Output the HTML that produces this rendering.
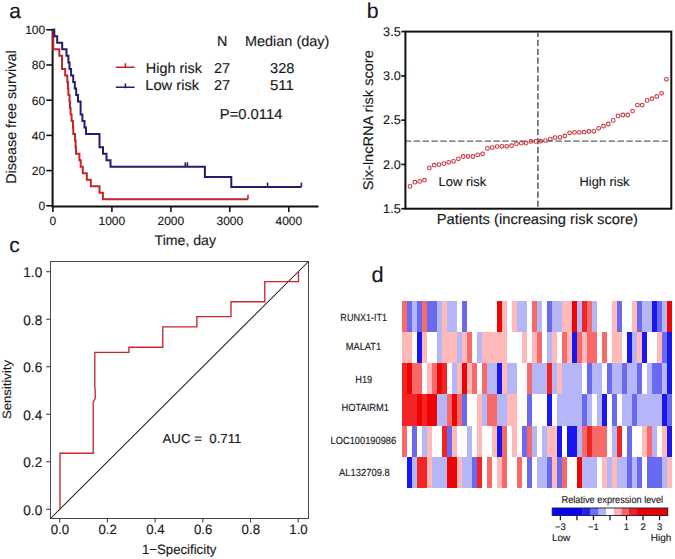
<!DOCTYPE html>
<html><head><meta charset="utf-8"><style>
html,body{margin:0;padding:0;background:#fff;}
body{width:675px;height:559px;overflow:hidden;}
svg{display:block;font-family:"Liberation Sans", sans-serif;text-rendering:geometricPrecision;}
text{fill:#1a1a1a;stroke:#1a1a1a;stroke-width:0.15px;}
</style></head><body>
<svg width="675" height="559" viewBox="0 0 675 559">
<rect width="675" height="559" fill="#fff"/>
<g id="pa">
<text x="9.3" y="17.8" font-size="21">a</text>
<path d="M52.6 28.8 V207.5 M51.6 206.5 H318.5" stroke="#111" stroke-width="2" fill="none"/>
<path d="M46.3 29.8 H53" stroke="#111" stroke-width="1.6"/>
<text x="45.2" y="34.1" font-size="12" text-anchor="end">100</text>
<path d="M46.3 65.0 H53" stroke="#111" stroke-width="1.6"/>
<text x="45.2" y="69.3" font-size="12" text-anchor="end">80</text>
<path d="M46.3 100.2 H53" stroke="#111" stroke-width="1.6"/>
<text x="45.2" y="104.5" font-size="12" text-anchor="end">60</text>
<path d="M46.3 135.4 H53" stroke="#111" stroke-width="1.6"/>
<text x="45.2" y="139.70000000000002" font-size="12" text-anchor="end">40</text>
<path d="M46.3 170.6 H53" stroke="#111" stroke-width="1.6"/>
<text x="45.2" y="174.9" font-size="12" text-anchor="end">20</text>
<path d="M46.3 205.8 H53" stroke="#111" stroke-width="1.6"/>
<text x="45.2" y="210.10000000000002" font-size="12" text-anchor="end">0</text>
<path d="M52.9 206.5 V212" stroke="#111" stroke-width="1.6"/>
<text x="52.9" y="224.6" font-size="12" text-anchor="middle">0</text>
<path d="M111.9 206.5 V212" stroke="#111" stroke-width="1.6"/>
<text x="111.88" y="224.6" font-size="12" text-anchor="middle">1000</text>
<path d="M170.9 206.5 V212" stroke="#111" stroke-width="1.6"/>
<text x="170.85999999999999" y="224.6" font-size="12" text-anchor="middle">2000</text>
<path d="M229.8 206.5 V212" stroke="#111" stroke-width="1.6"/>
<text x="229.84" y="224.6" font-size="12" text-anchor="middle">3000</text>
<path d="M288.8 206.5 V212" stroke="#111" stroke-width="1.6"/>
<text x="288.82" y="224.6" font-size="12" text-anchor="middle">4000</text>
<text x="185.3" y="244.5" font-size="14" text-anchor="middle" textLength="61.5" lengthAdjust="spacingAndGlyphs">Time, day</text>
<text x="15.8" y="117.1" font-size="14.2" text-anchor="middle" textLength="133.5" lengthAdjust="spacingAndGlyphs" transform="rotate(-90 15.8 117.1)">Disease free survival</text>
<path d="M52.9 29.79 H53.3 V49.34 H59.3 V55.86 H62.0 V68.90 H65.2 V75.42 H67.3 V81.94 H67.9 V88.46 H68.4 V94.98 H69.5 V101.50 H70.0 V108.02 H70.6 V114.53 H71.6 V121.05 H73.0 V127.57 H73.3 V134.09 H75.0 V140.61 H75.6 V147.13 H76.0 V153.65 H79.4 V160.17 H80.7 V166.69 H82.8 V173.21 H86.8 V179.72 H90.8 V186.24 H99.5 V192.76 H102.9 V199.28 H248.0" stroke="#c42529" stroke-width="2" fill="none"/>
<path d="M52.9 29.79 H54.3 V36.31 H57.2 V42.83 H62.2 V49.34 H66.5 V55.86 H68.4 V62.38 H69.5 V68.90 H71.1 V75.42 H73.2 V81.94 H74.8 V88.46 H76.2 V94.98 H78.0 V101.50 H80.6 V114.53 H82.4 V121.05 H84.5 V127.57 H86.0 V134.09 H99.5 V147.13 H103.0 V153.65 H106.5 V160.17 H110.5 V166.69 H204.9 V177.12 H231.3 V186.89 H301.4" stroke="#261b6c" stroke-width="2" fill="none"/>
<path d="M248 199.28 v-4.5" stroke="#c42529" stroke-width="1.6"/>
<path d="M185.3 166.69 v-4.3" stroke="#261b6c" stroke-width="1.6"/>
<path d="M187.4 166.69 v-4.3" stroke="#261b6c" stroke-width="1.6"/>
<path d="M267.6 186.89 v-4.3" stroke="#261b6c" stroke-width="1.6"/>
<path d="M301.4 186.89 v-4.3" stroke="#261b6c" stroke-width="1.6"/>
<text x="217.0" y="45.6" font-size="14.3">N</text>
<text x="245.0" y="45.6" font-size="14.3" textLength="84.3" lengthAdjust="spacingAndGlyphs">Median (day)</text>
<path d="M115.8 67.2 H134.6 M125.4 67.7 v-4.4" stroke="#c42529" stroke-width="1.6" fill="none"/>
<path d="M115.8 87.2 H134.6 M125.4 88.2 v-4.8" stroke="#261b6c" stroke-width="1.6" fill="none"/>
<text x="145.8" y="72.5" font-size="14.3" textLength="56.2" lengthAdjust="spacingAndGlyphs">High risk</text>
<text x="145.2" y="89.7" font-size="14.3" textLength="54.0" lengthAdjust="spacingAndGlyphs">Low risk</text>
<text x="214.0" y="72.5" font-size="14.3" textLength="16.2" lengthAdjust="spacingAndGlyphs">27</text>
<text x="214.0" y="89.7" font-size="14.3" textLength="16.2" lengthAdjust="spacingAndGlyphs">27</text>
<text x="270.0" y="72.5" font-size="14.3" textLength="24.4" lengthAdjust="spacingAndGlyphs">328</text>
<text x="270.0" y="89.7" font-size="14.3" textLength="24.0" lengthAdjust="spacingAndGlyphs">511</text>
<text x="219.8" y="118.7" font-size="14.3" textLength="62.6" lengthAdjust="spacingAndGlyphs">P=0.0114</text>
</g>
<g id="pb">
<text x="366.8" y="18.0" font-size="21.3">b</text>
<path d="M406 141.1 H670.5" stroke="#636363" stroke-width="1.4" stroke-dasharray="6.4 2.46" stroke-dashoffset="1.16" fill="none"/>
<path d="M537.9 33 V207.5" stroke="#737373" stroke-width="1.8" stroke-dasharray="6.25 2.68" stroke-dashoffset="2.2" fill="none"/>
<rect x="405.4" y="31.6" width="265.9" height="177.1" stroke="#111" stroke-width="2" fill="none"/>
<path d="M401.2 31.60 H405.3" stroke="#111" stroke-width="1.6"/>
<text x="400.7" y="35.89999999999999" font-size="12.6" text-anchor="end" textLength="17.6" lengthAdjust="spacingAndGlyphs">3.5</text>
<path d="M401.2 75.88 H405.3" stroke="#111" stroke-width="1.6"/>
<text x="400.7" y="80.175" font-size="12.6" text-anchor="end" textLength="17.6" lengthAdjust="spacingAndGlyphs">3.0</text>
<path d="M401.2 120.15 H405.3" stroke="#111" stroke-width="1.6"/>
<text x="400.7" y="124.44999999999999" font-size="12.6" text-anchor="end" textLength="17.6" lengthAdjust="spacingAndGlyphs">2.5</text>
<path d="M401.2 164.42 H405.3" stroke="#111" stroke-width="1.6"/>
<text x="400.7" y="168.725" font-size="12.6" text-anchor="end" textLength="17.6" lengthAdjust="spacingAndGlyphs">2.0</text>
<path d="M401.2 208.70 H405.3" stroke="#111" stroke-width="1.6"/>
<text x="400.7" y="213.0" font-size="12.6" text-anchor="end" textLength="17.6" lengthAdjust="spacingAndGlyphs">1.5</text>
<g fill="none" stroke="#c83a42" stroke-width="1.1"><circle cx="410.00" cy="186.4" r="1.85"/><circle cx="414.84" cy="182.2" r="1.85"/><circle cx="419.68" cy="181.4" r="1.85"/><circle cx="424.51" cy="180.2" r="1.85"/><circle cx="429.35" cy="167.9" r="1.85"/><circle cx="434.19" cy="165.2" r="1.85"/><circle cx="439.03" cy="164.6" r="1.85"/><circle cx="443.87" cy="163.6" r="1.85"/><circle cx="448.70" cy="162.3" r="1.85"/><circle cx="453.54" cy="161.3" r="1.85"/><circle cx="458.38" cy="158.8" r="1.85"/><circle cx="463.22" cy="156.5" r="1.85"/><circle cx="468.06" cy="156.5" r="1.85"/><circle cx="472.89" cy="156.5" r="1.85"/><circle cx="477.73" cy="154.9" r="1.85"/><circle cx="482.57" cy="153.8" r="1.85"/><circle cx="487.41" cy="148.4" r="1.85"/><circle cx="492.25" cy="147.6" r="1.85"/><circle cx="497.08" cy="146.6" r="1.85"/><circle cx="501.92" cy="146.3" r="1.85"/><circle cx="506.76" cy="146.3" r="1.85"/><circle cx="511.60" cy="145.7" r="1.85"/><circle cx="516.44" cy="143.7" r="1.85"/><circle cx="521.27" cy="143.2" r="1.85"/><circle cx="526.11" cy="143.2" r="1.85"/><circle cx="530.95" cy="141.4" r="1.85"/><circle cx="535.79" cy="141.4" r="1.85"/><circle cx="540.63" cy="141.2" r="1.85"/><circle cx="545.46" cy="140.6" r="1.85"/><circle cx="550.30" cy="139.1" r="1.85"/><circle cx="555.14" cy="137.6" r="1.85"/><circle cx="559.98" cy="137.3" r="1.85"/><circle cx="564.82" cy="136.0" r="1.85"/><circle cx="569.65" cy="132.8" r="1.85"/><circle cx="574.49" cy="132.4" r="1.85"/><circle cx="579.33" cy="132.4" r="1.85"/><circle cx="584.17" cy="132.2" r="1.85"/><circle cx="589.01" cy="131.5" r="1.85"/><circle cx="593.84" cy="131.3" r="1.85"/><circle cx="598.68" cy="128.3" r="1.85"/><circle cx="603.52" cy="126.2" r="1.85"/><circle cx="608.36" cy="124.0" r="1.85"/><circle cx="613.20" cy="120.4" r="1.85"/><circle cx="618.03" cy="115.9" r="1.85"/><circle cx="622.87" cy="115.0" r="1.85"/><circle cx="627.71" cy="115.0" r="1.85"/><circle cx="632.55" cy="111.1" r="1.85"/><circle cx="637.39" cy="105.1" r="1.85"/><circle cx="642.22" cy="105.1" r="1.85"/><circle cx="647.06" cy="100.4" r="1.85"/><circle cx="651.90" cy="98.7" r="1.85"/><circle cx="656.74" cy="96.5" r="1.85"/><circle cx="661.58" cy="93.3" r="1.85"/><circle cx="666.41" cy="79.3" r="1.85"/></g>
<text x="438.6" y="186.0" font-size="12.8" textLength="47.6" lengthAdjust="spacingAndGlyphs">Low risk</text>
<text x="579.5" y="186.0" font-size="12.8" textLength="50.0" lengthAdjust="spacingAndGlyphs">High risk</text>
<text x="436.8" y="224.2" font-size="14.5" textLength="201.2" lengthAdjust="spacingAndGlyphs">Patients (increasing risk score)</text>
<text x="373.0" y="120.2" font-size="14" text-anchor="middle" textLength="140" lengthAdjust="spacingAndGlyphs" transform="rotate(-90 373.0 120.2)">Six-lncRNA risk score</text>
</g>
<g id="pc">
<text x="9.2" y="252.0" font-size="21">c</text>
<rect x="50.5" y="261.5" width="258.0" height="257.0" stroke="#484848" stroke-width="1" fill="none"/>
<path d="M50.5 518.5 L308.5 261.5" stroke="#222" stroke-width="1.05" fill="none"/>
<path d="M46.2 509.30 H50.5" stroke="#444" stroke-width="1.1"/>
<text x="42.2" y="514.6" font-size="14" text-anchor="end" textLength="18.9" lengthAdjust="spacingAndGlyphs">0.0</text>
<path d="M59.70 518.5 V522.6" stroke="#444" stroke-width="1.1"/>
<text x="60.0" y="534.1" font-size="13.6" text-anchor="middle" textLength="18.4" lengthAdjust="spacingAndGlyphs">0.0</text>
<path d="M46.2 461.78 H50.5" stroke="#444" stroke-width="1.1"/>
<text x="42.2" y="467.08000000000004" font-size="14" text-anchor="end" textLength="18.9" lengthAdjust="spacingAndGlyphs">0.2</text>
<path d="M107.40 518.5 V522.6" stroke="#444" stroke-width="1.1"/>
<text x="107.7" y="534.1" font-size="13.6" text-anchor="middle" textLength="18.4" lengthAdjust="spacingAndGlyphs">0.2</text>
<path d="M46.2 414.26 H50.5" stroke="#444" stroke-width="1.1"/>
<text x="42.2" y="419.56" font-size="14" text-anchor="end" textLength="18.9" lengthAdjust="spacingAndGlyphs">0.4</text>
<path d="M155.10 518.5 V522.6" stroke="#444" stroke-width="1.1"/>
<text x="155.40000000000003" y="534.1" font-size="13.6" text-anchor="middle" textLength="18.4" lengthAdjust="spacingAndGlyphs">0.4</text>
<path d="M46.2 366.74 H50.5" stroke="#444" stroke-width="1.1"/>
<text x="42.2" y="372.04" font-size="14" text-anchor="end" textLength="18.9" lengthAdjust="spacingAndGlyphs">0.6</text>
<path d="M202.80 518.5 V522.6" stroke="#444" stroke-width="1.1"/>
<text x="203.10000000000002" y="534.1" font-size="13.6" text-anchor="middle" textLength="18.4" lengthAdjust="spacingAndGlyphs">0.6</text>
<path d="M46.2 319.22 H50.5" stroke="#444" stroke-width="1.1"/>
<text x="42.2" y="324.52000000000004" font-size="14" text-anchor="end" textLength="18.9" lengthAdjust="spacingAndGlyphs">0.8</text>
<path d="M250.50 518.5 V522.6" stroke="#444" stroke-width="1.1"/>
<text x="250.8" y="534.1" font-size="13.6" text-anchor="middle" textLength="18.4" lengthAdjust="spacingAndGlyphs">0.8</text>
<path d="M46.2 271.70 H50.5" stroke="#444" stroke-width="1.1"/>
<text x="42.2" y="277.00000000000006" font-size="14" text-anchor="end" textLength="18.9" lengthAdjust="spacingAndGlyphs">1.0</text>
<path d="M298.20 518.5 V522.6" stroke="#444" stroke-width="1.1"/>
<text x="298.5" y="534.1" font-size="13.6" text-anchor="middle" textLength="18.4" lengthAdjust="spacingAndGlyphs">1.0</text>
<text x="11.3" y="389.5" font-size="12" text-anchor="middle" textLength="59" lengthAdjust="spacingAndGlyphs" transform="rotate(-90 11.3 389.5)">Sensitivity</text>
<text x="179.2" y="553.9" font-size="13.5" text-anchor="middle" textLength="74.5" lengthAdjust="spacingAndGlyphs">1−Specificity</text>
<path d="M60.00 509.30 L60.00 453.20 L93.20 453.20 L93.20 402.00 L95.20 398.50 L95.20 390.00 L94.80 387.50 L94.80 352.40 L128.90 352.40 L128.90 347.20 L162.80 347.20 L162.80 326.90 L196.90 326.90 L196.90 316.60 L231.00 316.60 L231.00 301.70 L264.80 301.70 L264.80 281.60 L298.50 281.60 L298.50 271.30" stroke="#c8262a" stroke-width="1.35" fill="none"/>
<text x="162.5" y="443.3" font-size="13" textLength="79" lengthAdjust="spacingAndGlyphs" xml:space="preserve">AUC =  0.711</text>
</g>
<g id="pd">
<text x="371.4" y="281.7" font-size="21.8">d</text>
<g shape-rendering="crispEdges"><rect x="401.85" y="301.20" width="5.00" height="31.08" fill="#f86a6a"/><rect x="406.85" y="301.20" width="5.00" height="31.08" fill="#6a6af0"/><rect x="411.85" y="301.20" width="5.00" height="31.08" fill="#b4b6f8"/><rect x="416.85" y="301.20" width="5.00" height="31.08" fill="#6a6af0"/><rect x="421.85" y="301.20" width="5.00" height="31.08" fill="#f86a6a"/><rect x="426.85" y="301.20" width="10.00" height="31.08" fill="#6a6af0"/><rect x="436.85" y="301.20" width="5.00" height="31.08" fill="#b4b6f8"/><rect x="441.85" y="301.20" width="5.00" height="31.08" fill="#ffb9b9"/><rect x="446.85" y="301.20" width="10.00" height="31.08" fill="#b4b6f8"/><rect x="461.85" y="301.20" width="5.00" height="31.08" fill="#6a6af0"/><rect x="496.85" y="301.20" width="5.00" height="31.08" fill="#ee0404"/><rect x="501.85" y="301.20" width="5.00" height="31.08" fill="#ffb9b9"/><rect x="511.85" y="301.20" width="5.00" height="31.08" fill="#ffb9b9"/><rect x="516.85" y="301.20" width="10.00" height="31.08" fill="#b4b6f8"/><rect x="531.85" y="301.20" width="5.00" height="31.08" fill="#f86a6a"/><rect x="536.85" y="301.20" width="5.00" height="31.08" fill="#b4b6f8"/><rect x="546.85" y="301.20" width="5.00" height="31.08" fill="#6a6af0"/><rect x="551.85" y="301.20" width="10.00" height="31.08" fill="#b4b6f8"/><rect x="561.85" y="301.20" width="10.00" height="31.08" fill="#ffb9b9"/><rect x="571.85" y="301.20" width="5.00" height="31.08" fill="#ee0404"/><rect x="576.85" y="301.20" width="5.00" height="31.08" fill="#b4b6f8"/><rect x="581.85" y="301.20" width="5.00" height="31.08" fill="#f32424"/><rect x="586.85" y="301.20" width="5.00" height="31.08" fill="#f86a6a"/><rect x="591.85" y="301.20" width="5.00" height="31.08" fill="#b4b6f8"/><rect x="611.85" y="301.20" width="5.00" height="31.08" fill="#ffb9b9"/><rect x="616.85" y="301.20" width="5.00" height="31.08" fill="#6a6af0"/><rect x="631.85" y="301.20" width="5.00" height="31.08" fill="#ffb9b9"/><rect x="636.85" y="301.20" width="5.00" height="31.08" fill="#6a6af0"/><rect x="641.85" y="301.20" width="10.00" height="31.08" fill="#b4b6f8"/><rect x="651.85" y="301.20" width="5.00" height="31.08" fill="#1a16ef"/><rect x="656.85" y="301.20" width="5.00" height="31.08" fill="#6a6af0"/><rect x="661.85" y="301.20" width="5.00" height="31.08" fill="#b4b6f8"/><rect x="666.85" y="301.20" width="5.00" height="31.08" fill="#ee0404"/><rect x="401.85" y="332.28" width="10.00" height="31.08" fill="#ffb9b9"/><rect x="416.85" y="332.28" width="5.00" height="31.08" fill="#1a16ef"/><rect x="421.85" y="332.28" width="5.00" height="31.08" fill="#ffb9b9"/><rect x="436.85" y="332.28" width="5.00" height="31.08" fill="#b4b6f8"/><rect x="441.85" y="332.28" width="15.00" height="31.08" fill="#ffb9b9"/><rect x="456.85" y="332.28" width="5.00" height="31.08" fill="#b4b6f8"/><rect x="461.85" y="332.28" width="5.00" height="31.08" fill="#ffb9b9"/><rect x="466.85" y="332.28" width="5.00" height="31.08" fill="#f86a6a"/><rect x="476.85" y="332.28" width="5.00" height="31.08" fill="#b4b6f8"/><rect x="481.85" y="332.28" width="25.00" height="31.08" fill="#ffb9b9"/><rect x="521.85" y="332.28" width="5.00" height="31.08" fill="#ffb9b9"/><rect x="531.85" y="332.28" width="5.00" height="31.08" fill="#ffb9b9"/><rect x="536.85" y="332.28" width="5.00" height="31.08" fill="#f86a6a"/><rect x="546.85" y="332.28" width="5.00" height="31.08" fill="#b4b6f8"/><rect x="551.85" y="332.28" width="5.00" height="31.08" fill="#ffb9b9"/><rect x="561.85" y="332.28" width="5.00" height="31.08" fill="#f86a6a"/><rect x="566.85" y="332.28" width="5.00" height="31.08" fill="#ffb9b9"/><rect x="571.85" y="332.28" width="5.00" height="31.08" fill="#1a16ef"/><rect x="576.85" y="332.28" width="5.00" height="31.08" fill="#f86a6a"/><rect x="581.85" y="332.28" width="5.00" height="31.08" fill="#ffb9b9"/><rect x="586.85" y="332.28" width="10.00" height="31.08" fill="#f86a6a"/><rect x="601.85" y="332.28" width="5.00" height="31.08" fill="#f86a6a"/><rect x="611.85" y="332.28" width="10.00" height="31.08" fill="#ffb9b9"/><rect x="626.85" y="332.28" width="5.00" height="31.08" fill="#1a16ef"/><rect x="631.85" y="332.28" width="5.00" height="31.08" fill="#b4b6f8"/><rect x="636.85" y="332.28" width="5.00" height="31.08" fill="#ffb9b9"/><rect x="641.85" y="332.28" width="5.00" height="31.08" fill="#1a16ef"/><rect x="656.85" y="332.28" width="5.00" height="31.08" fill="#ffb9b9"/><rect x="661.85" y="332.28" width="5.00" height="31.08" fill="#6a6af0"/><rect x="666.85" y="332.28" width="5.00" height="31.08" fill="#1a16ef"/><rect x="401.85" y="363.36" width="5.00" height="31.08" fill="#f32424"/><rect x="406.85" y="363.36" width="5.00" height="31.08" fill="#ee0404"/><rect x="411.85" y="363.36" width="10.00" height="31.08" fill="#f86a6a"/><rect x="426.85" y="363.36" width="5.00" height="31.08" fill="#ffb9b9"/><rect x="431.85" y="363.36" width="5.00" height="31.08" fill="#f86a6a"/><rect x="436.85" y="363.36" width="5.00" height="31.08" fill="#ee0404"/><rect x="441.85" y="363.36" width="5.00" height="31.08" fill="#f32424"/><rect x="451.85" y="363.36" width="5.00" height="31.08" fill="#b4b6f8"/><rect x="456.85" y="363.36" width="5.00" height="31.08" fill="#ffb9b9"/><rect x="461.85" y="363.36" width="5.00" height="31.08" fill="#ee0404"/><rect x="466.85" y="363.36" width="5.00" height="31.08" fill="#ffb9b9"/><rect x="471.85" y="363.36" width="5.00" height="31.08" fill="#f86a6a"/><rect x="481.85" y="363.36" width="5.00" height="31.08" fill="#f86a6a"/><rect x="486.85" y="363.36" width="10.00" height="31.08" fill="#b4b6f8"/><rect x="496.85" y="363.36" width="5.00" height="31.08" fill="#1a16ef"/><rect x="501.85" y="363.36" width="5.00" height="31.08" fill="#ffb9b9"/><rect x="506.85" y="363.36" width="10.00" height="31.08" fill="#b4b6f8"/><rect x="526.85" y="363.36" width="5.00" height="31.08" fill="#f86a6a"/><rect x="531.85" y="363.36" width="15.00" height="31.08" fill="#b4b6f8"/><rect x="546.85" y="363.36" width="5.00" height="31.08" fill="#f32424"/><rect x="551.85" y="363.36" width="5.00" height="31.08" fill="#b4b6f8"/><rect x="556.85" y="363.36" width="5.00" height="31.08" fill="#ffb9b9"/><rect x="561.85" y="363.36" width="20.00" height="31.08" fill="#b4b6f8"/><rect x="586.85" y="363.36" width="5.00" height="31.08" fill="#6a6af0"/><rect x="591.85" y="363.36" width="10.00" height="31.08" fill="#b4b6f8"/><rect x="606.85" y="363.36" width="5.00" height="31.08" fill="#6a6af0"/><rect x="611.85" y="363.36" width="10.00" height="31.08" fill="#b4b6f8"/><rect x="621.85" y="363.36" width="5.00" height="31.08" fill="#6a6af0"/><rect x="626.85" y="363.36" width="10.00" height="31.08" fill="#b4b6f8"/><rect x="636.85" y="363.36" width="5.00" height="31.08" fill="#6a6af0"/><rect x="646.85" y="363.36" width="5.00" height="31.08" fill="#b4b6f8"/><rect x="651.85" y="363.36" width="10.00" height="31.08" fill="#6a6af0"/><rect x="661.85" y="363.36" width="5.00" height="31.08" fill="#b4b6f8"/><rect x="666.85" y="363.36" width="5.00" height="31.08" fill="#1a16ef"/><rect x="401.85" y="394.44" width="15.00" height="31.08" fill="#f32424"/><rect x="416.85" y="394.44" width="5.00" height="31.08" fill="#ee0404"/><rect x="421.85" y="394.44" width="5.00" height="31.08" fill="#f32424"/><rect x="426.85" y="394.44" width="10.00" height="31.08" fill="#ee0404"/><rect x="436.85" y="394.44" width="10.00" height="31.08" fill="#b4b6f8"/><rect x="446.85" y="394.44" width="5.00" height="31.08" fill="#f86a6a"/><rect x="451.85" y="394.44" width="5.00" height="31.08" fill="#ee0404"/><rect x="456.85" y="394.44" width="5.00" height="31.08" fill="#f86a6a"/><rect x="461.85" y="394.44" width="5.00" height="31.08" fill="#6a6af0"/><rect x="476.85" y="394.44" width="5.00" height="31.08" fill="#ffb9b9"/><rect x="481.85" y="394.44" width="5.00" height="31.08" fill="#b4b6f8"/><rect x="486.85" y="394.44" width="10.00" height="31.08" fill="#f86a6a"/><rect x="496.85" y="394.44" width="10.00" height="31.08" fill="#b4b6f8"/><rect x="506.85" y="394.44" width="10.00" height="31.08" fill="#ffb9b9"/><rect x="526.85" y="394.44" width="5.00" height="31.08" fill="#6a6af0"/><rect x="546.85" y="394.44" width="5.00" height="31.08" fill="#1a16ef"/><rect x="556.85" y="394.44" width="25.00" height="31.08" fill="#b4b6f8"/><rect x="581.85" y="394.44" width="5.00" height="31.08" fill="#6a6af0"/><rect x="586.85" y="394.44" width="5.00" height="31.08" fill="#b4b6f8"/><rect x="596.85" y="394.44" width="5.00" height="31.08" fill="#b4b6f8"/><rect x="601.85" y="394.44" width="5.00" height="31.08" fill="#1a16ef"/><rect x="611.85" y="394.44" width="5.00" height="31.08" fill="#6a6af0"/><rect x="621.85" y="394.44" width="10.00" height="31.08" fill="#b4b6f8"/><rect x="631.85" y="394.44" width="5.00" height="31.08" fill="#6a6af0"/><rect x="636.85" y="394.44" width="25.00" height="31.08" fill="#b4b6f8"/><rect x="661.85" y="394.44" width="5.00" height="31.08" fill="#1a16ef"/><rect x="666.85" y="394.44" width="5.00" height="31.08" fill="#6a6af0"/><rect x="401.85" y="425.52" width="5.00" height="31.08" fill="#f86a6a"/><rect x="411.85" y="425.52" width="5.00" height="31.08" fill="#6a6af0"/><rect x="421.85" y="425.52" width="5.00" height="31.08" fill="#b4b6f8"/><rect x="426.85" y="425.52" width="5.00" height="31.08" fill="#ffb9b9"/><rect x="441.85" y="425.52" width="5.00" height="31.08" fill="#f32424"/><rect x="446.85" y="425.52" width="5.00" height="31.08" fill="#6a6af0"/><rect x="451.85" y="425.52" width="5.00" height="31.08" fill="#ffb9b9"/><rect x="466.85" y="425.52" width="5.00" height="31.08" fill="#b4b6f8"/><rect x="476.85" y="425.52" width="5.00" height="31.08" fill="#ffb9b9"/><rect x="491.85" y="425.52" width="5.00" height="31.08" fill="#ffb9b9"/><rect x="496.85" y="425.52" width="5.00" height="31.08" fill="#1a16ef"/><rect x="501.85" y="425.52" width="5.00" height="31.08" fill="#f86a6a"/><rect x="511.85" y="425.52" width="5.00" height="31.08" fill="#ffb9b9"/><rect x="521.85" y="425.52" width="5.00" height="31.08" fill="#6a6af0"/><rect x="526.85" y="425.52" width="5.00" height="31.08" fill="#f86a6a"/><rect x="531.85" y="425.52" width="5.00" height="31.08" fill="#b4b6f8"/><rect x="541.85" y="425.52" width="5.00" height="31.08" fill="#b4b6f8"/><rect x="546.85" y="425.52" width="10.00" height="31.08" fill="#ffb9b9"/><rect x="556.85" y="425.52" width="5.00" height="31.08" fill="#1a16ef"/><rect x="566.85" y="425.52" width="10.00" height="31.08" fill="#1a16ef"/><rect x="576.85" y="425.52" width="5.00" height="31.08" fill="#b4b6f8"/><rect x="581.85" y="425.52" width="5.00" height="31.08" fill="#f86a6a"/><rect x="586.85" y="425.52" width="5.00" height="31.08" fill="#f32424"/><rect x="591.85" y="425.52" width="15.00" height="31.08" fill="#f86a6a"/><rect x="611.85" y="425.52" width="5.00" height="31.08" fill="#b4b6f8"/><rect x="616.85" y="425.52" width="5.00" height="31.08" fill="#f32424"/><rect x="626.85" y="425.52" width="5.00" height="31.08" fill="#6a6af0"/><rect x="641.85" y="425.52" width="5.00" height="31.08" fill="#ffb9b9"/><rect x="646.85" y="425.52" width="5.00" height="31.08" fill="#f86a6a"/><rect x="651.85" y="425.52" width="5.00" height="31.08" fill="#b4b6f8"/><rect x="661.85" y="425.52" width="5.00" height="31.08" fill="#ffb9b9"/><rect x="666.85" y="425.52" width="5.00" height="31.08" fill="#1a16ef"/><rect x="406.85" y="456.60" width="5.00" height="31.08" fill="#1a16ef"/><rect x="411.85" y="456.60" width="5.00" height="31.08" fill="#b4b6f8"/><rect x="416.85" y="456.60" width="10.00" height="31.08" fill="#f32424"/><rect x="426.85" y="456.60" width="5.00" height="31.08" fill="#ffb9b9"/><rect x="431.85" y="456.60" width="15.00" height="31.08" fill="#b4b6f8"/><rect x="446.85" y="456.60" width="10.00" height="31.08" fill="#ee0404"/><rect x="456.85" y="456.60" width="5.00" height="31.08" fill="#ffb9b9"/><rect x="461.85" y="456.60" width="10.00" height="31.08" fill="#b4b6f8"/><rect x="471.85" y="456.60" width="5.00" height="31.08" fill="#6a6af0"/><rect x="476.85" y="456.60" width="5.00" height="31.08" fill="#f32424"/><rect x="486.85" y="456.60" width="5.00" height="31.08" fill="#f86a6a"/><rect x="496.85" y="456.60" width="5.00" height="31.08" fill="#ffb9b9"/><rect x="501.85" y="456.60" width="5.00" height="31.08" fill="#f86a6a"/><rect x="516.85" y="456.60" width="5.00" height="31.08" fill="#f86a6a"/><rect x="526.85" y="456.60" width="5.00" height="31.08" fill="#6a6af0"/><rect x="536.85" y="456.60" width="10.00" height="31.08" fill="#b4b6f8"/><rect x="546.85" y="456.60" width="5.00" height="31.08" fill="#6a6af0"/><rect x="551.85" y="456.60" width="5.00" height="31.08" fill="#ffb9b9"/><rect x="556.85" y="456.60" width="5.00" height="31.08" fill="#6a6af0"/><rect x="561.85" y="456.60" width="5.00" height="31.08" fill="#f86a6a"/><rect x="576.85" y="456.60" width="5.00" height="31.08" fill="#ee0404"/><rect x="581.85" y="456.60" width="15.00" height="31.08" fill="#b4b6f8"/><rect x="601.85" y="456.60" width="5.00" height="31.08" fill="#ffb9b9"/><rect x="606.85" y="456.60" width="5.00" height="31.08" fill="#b4b6f8"/><rect x="611.85" y="456.60" width="5.00" height="31.08" fill="#ffb9b9"/><rect x="616.85" y="456.60" width="10.00" height="31.08" fill="#b4b6f8"/><rect x="626.85" y="456.60" width="5.00" height="31.08" fill="#6a6af0"/><rect x="631.85" y="456.60" width="5.00" height="31.08" fill="#b4b6f8"/><rect x="636.85" y="456.60" width="5.00" height="31.08" fill="#6a6af0"/><rect x="646.85" y="456.60" width="15.00" height="31.08" fill="#6a6af0"/><rect x="661.85" y="456.60" width="5.00" height="31.08" fill="#b4b6f8"/><rect x="666.85" y="456.60" width="5.00" height="31.08" fill="#ffb9b9"/></g>
<text x="363.75" y="320.5" font-size="10.3" text-anchor="middle" textLength="46.8" lengthAdjust="spacingAndGlyphs">RUNX1-IT1</text>
<text x="363.45" y="349.8" font-size="10.3" text-anchor="middle" textLength="35.6" lengthAdjust="spacingAndGlyphs">MALAT1</text>
<text x="363.7" y="382.6" font-size="10.3" text-anchor="middle" textLength="16.9" lengthAdjust="spacingAndGlyphs">H19</text>
<text x="365.25" y="411.1" font-size="10.3" text-anchor="middle" textLength="47.6" lengthAdjust="spacingAndGlyphs">HOTAIRM1</text>
<text x="363.4" y="444.0" font-size="10.3" text-anchor="middle" textLength="65.60000000000001" lengthAdjust="spacingAndGlyphs">LOC100190986</text>
<text x="364.4" y="476.0" font-size="10.3" text-anchor="middle" textLength="50.699999999999996" lengthAdjust="spacingAndGlyphs">AL132709.8</text>
<text x="612.3" y="503.0" font-size="10" text-anchor="middle" textLength="101.5" lengthAdjust="spacingAndGlyphs">Relative expression level</text>
<rect x="552.2" y="508" width="30.60" height="7.5" fill="#0606f2"/>
<rect x="582.8" y="508" width="7.90" height="7.5" fill="#2424ee"/>
<rect x="590.7" y="508" width="8.00" height="7.5" fill="#6e6ef2"/>
<rect x="598.7" y="508" width="7.50" height="7.5" fill="#b2b2f8"/>
<rect x="606.2" y="508" width="7.60" height="7.5" fill="#ffffff"/>
<rect x="613.8" y="508" width="7.60" height="7.5" fill="#ffb2b2"/>
<rect x="621.4" y="508" width="7.60" height="7.5" fill="#f86464"/>
<rect x="629.0" y="508" width="8.00" height="7.5" fill="#f02222"/>
<rect x="637.0" y="508" width="30.80" height="7.5" fill="#ea0202"/>
<rect x="552.2" y="508" width="115.6" height="7.5" fill="none" stroke="#1a1a40" stroke-width="0.9"/>
<path d="M560.40 515.5 V520.2" stroke="#1a1a1a" stroke-width="1.3"/>
<path d="M576.93 515.5 V520.2" stroke="#1a1a1a" stroke-width="1.3"/>
<path d="M593.46 515.5 V520.2" stroke="#1a1a1a" stroke-width="1.3"/>
<path d="M609.99 515.5 V520.2" stroke="#1a1a1a" stroke-width="1.3"/>
<path d="M626.52 515.5 V520.2" stroke="#1a1a1a" stroke-width="1.3"/>
<path d="M643.05 515.5 V520.2" stroke="#1a1a1a" stroke-width="1.3"/>
<path d="M659.58 515.5 V520.2" stroke="#1a1a1a" stroke-width="1.3"/>
<text x="560.4" y="530.2" font-size="9.5" text-anchor="middle">−3</text>
<text x="593.46" y="530.2" font-size="9.5" text-anchor="middle">−1</text>
<text x="626.52" y="530.2" font-size="9.5" text-anchor="middle">1</text>
<text x="643.05" y="530.2" font-size="9.5" text-anchor="middle">2</text>
<text x="659.5799999999999" y="530.2" font-size="9.5" text-anchor="middle">3</text>
<text x="552.0" y="541.0" font-size="10">Low</text>
<text x="671.4" y="541.0" font-size="10" text-anchor="end">High</text>
</g>
</svg>
</body></html>
